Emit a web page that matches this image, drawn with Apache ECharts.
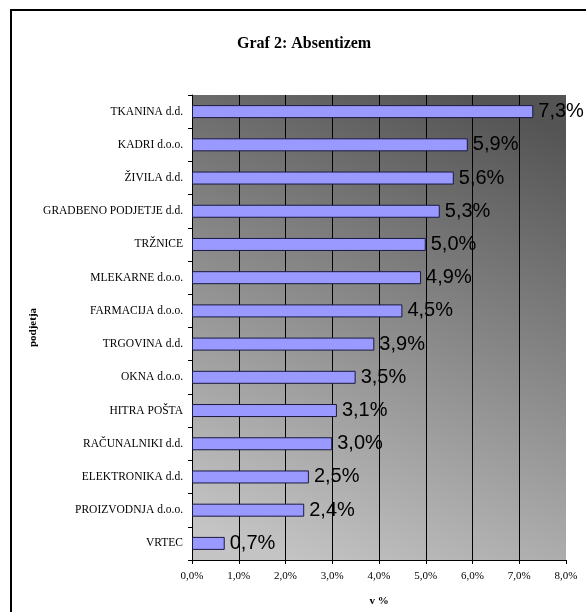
<!DOCTYPE html>
<html>
<head>
<meta charset="utf-8">
<script src="https://cdn.jsdelivr.net/npm/echarts@6/dist/echarts.min.js"></script>
<style>
  html, body { margin: 0; padding: 0; background: #fff; }
  #chart { width: 586px; height: 612px; }
</style>
</head>
<body>
<div id="chart"></div>
<script>
// Absenteeism by company, in percent
const companies = [
  'TKANINA d.d.', 'KADRI d.o.o.', 'ŽIVILA d.d.', 'GRADBENO PODJETJE d.d.',
  'TRŽNICE', 'MLEKARNE d.o.o.', 'FARMACIJA d.o.o.', 'TRGOVINA d.d.',
  'OKNA d.o.o.', 'HITRA POŠTA', 'RAČUNALNIKI d.d.', 'ELEKTRONIKA d.d.',
  'PROIZVODNJA d.o.o.', 'VRTEC'
];
const absenteeism = [7.3, 5.9, 5.6, 5.3, 5.0, 4.9, 4.5, 3.9, 3.5, 3.1, 3.0, 2.5, 2.4, 0.7];

const xMin = 0, xMax = 8, xStep = 1;

const pct = v => v.toFixed(1).replace('.', ',') + '%';
const serif = '"Liberation Serif", "Times New Roman", serif';
const sans = '"Liberation Sans", Arial, sans-serif';

const chart = echarts.init(document.getElementById('chart'));

// grid lines: black everywhere except the right edge
const gridColors = [];
for (let v = xMin; v <= xMax; v += xStep) gridColors.push(v === xMax ? 'rgba(0,0,0,0)' : '#000');

chart.setOption({
  animation: false,
  title: {
    text: 'Graf 2: Absentizem',
    left: 232,
    top: 31,
    textStyle: { fontFamily: serif, fontSize: 16, fontWeight: 'bold', color: '#000' }
  },
  graphic: [{
    type: 'rect',
    shape: { x: 11, y: 10, width: 620, height: 640 },
    style: { fill: 'none', stroke: '#000', lineWidth: 2 },
    silent: true,
    z: -10
  }],
  grid: {
    left: 192, top: 95, right: 20, bottom: 52,
    show: true,
    borderWidth: 0,
    backgroundColor: new echarts.graphic.LinearGradient(0.75, 0, 0.25, 1, [
      { offset: 0, color: '#545454' },
      { offset: 1, color: '#c4c4c4' }
    ])
  },
  xAxis: {
    type: 'value',
    min: xMin, max: xMax, interval: xStep,
    name: 'v %',
    nameLocation: 'middle',
    nameGap: 36,
    nameTextStyle: { fontFamily: serif, fontSize: 11, fontWeight: 'bold', color: '#000' },
    axisLine: { show: true, lineStyle: { color: '#000', width: 1 } },
    axisTick: { show: true, length: 4, lineStyle: { color: '#000' } },
    axisLabel: { formatter: pct, fontFamily: serif, fontSize: 11, color: '#000', margin: 11 },
    splitLine: { show: true, lineStyle: { color: gridColors, width: 1 } }
  },
  yAxis: {
    type: 'category',
    data: companies,
    inverse: true,
    name: 'podjetja',
    nameLocation: 'middle',
    nameGap: 153,
    nameMoveOverlap: false,
    nameRotate: 90,
    nameTextStyle: { fontFamily: serif, fontSize: 11, fontWeight: 'bold', color: '#000' },
    axisLine: { show: true, lineStyle: { color: '#000', width: 1 } },
    axisTick: { show: true, length: 4, alignWithLabel: false, lineStyle: { color: '#000' } },
    axisLabel: { fontFamily: serif, fontSize: 11.5, color: '#000', margin: 9 },
    splitLine: { show: false }
  },
  series: [{
    type: 'bar',
    data: absenteeism,
    barWidth: 13,
    itemStyle: { color: '#9999ff', borderColor: '#1a1a40', borderWidth: 1 },
    label: {
      show: true,
      position: 'right',
      distance: 5,
      formatter: p => pct(p.value),
      fontFamily: sans,
      fontSize: 20,
      color: '#000'
    }
  }]
});
</script>
</body>
</html>
